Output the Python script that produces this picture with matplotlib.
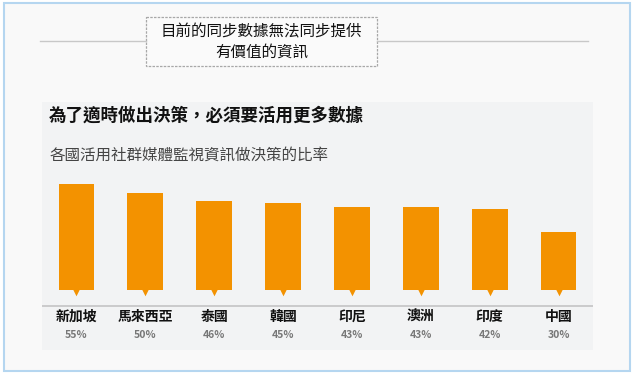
import matplotlib.pyplot as plt
from matplotlib.patches import Rectangle

plt.rcParams['font.family'] = ['Noto Sans CJK TC', 'DejaVu Sans']

# data
countries = ['新加坡', '馬來西亞', '泰國', '韓國', '印尼', '澳洲', '印度', '中國']
shares = [55, 50, 46, 45, 43, 43, 42, 30]
share_labels = ['55%', '50%', '46%', '45%', '43%', '43%', '42%', '30%']

title_lines = '目前的同步數據無法同步提供\n有價值的資訊'
heading = '為了適時做出決策，必須要活用更多數據'
subheading = '各國活用社群媒體監視資訊做決策的比率'

W, H = 635, 378
bar_color = '#f39200'

fig = plt.figure(figsize=(W / 100, H / 100), dpi=100)
fig.patch.set_facecolor('white')

# full-figure overlay in pixel coords for the frame and title box
bg = fig.add_axes([0, 0, 1, 1])
bg.set_xlim(0, W)
bg.set_ylim(H, 0)
bg.axis('off')
bg.add_patch(Rectangle((4, 3), 626, 368, facecolor='#f9f9f9',
                       edgecolor='#b5d6f0', lw=1.5))
bg.plot([40, 146], [41, 41], color='#c8c8c8', lw=1)
bg.plot([377, 588], [41, 41], color='#c8c8c8', lw=1)
bg.add_patch(Rectangle((146, 17), 231, 49, facecolor='#fafafa',
                       edgecolor='#a8a8a8', lw=0.9, ls=(0, (2, 1))))
bg.text(261.5, 42, title_lines, ha='center', va='center', fontsize=11.2,
        linespacing=1.3, color='#111111')

# bar panel
ax = fig.add_axes([42 / W, 1 - 350 / H, 551 / W, 248 / H])
ax.set_facecolor('#f2f3f4')
for s in ax.spines.values():
    s.set_visible(False)
ax.set_xticks([])
ax.set_yticks([])
ax.set_xlim(-0.5, 7.5)
ax.set_ylim(-31.1, 97.4)

x = list(range(len(countries)))
ax.bar(x, shares, width=0.52, color=bar_color, zorder=2)
# small pointer under each bar
ax.scatter(x, [-1.3] * len(x), marker='v', s=30, color=bar_color,
           linewidths=0, zorder=2)
ax.axhline(-8.5, color='#c4c4c4', lw=1.2, zorder=1)

for xi, name, lab in zip(x, countries, share_labels):
    ax.text(xi, -13.9, name, ha='center', va='center', fontsize=10,
            fontweight='bold', color='#111111')
    ax.text(xi, -23.2, lab, ha='center', va='center', fontsize=7.5,
            fontweight='bold', color='#777777')

ax.text(0.013, 0.945, heading, transform=ax.transAxes, ha='left',
        va='center', fontsize=12.6, fontweight='bold', color='#111111')
ax.text(0.013, 0.785, subheading, transform=ax.transAxes, ha='left',
        va='center', fontsize=11.2, color='#444444')

fig.savefig('out.png', dpi=100, facecolor='white')
